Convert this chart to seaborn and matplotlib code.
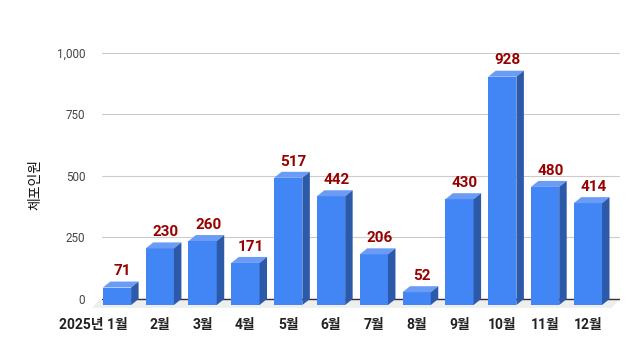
import matplotlib
matplotlib.use("Agg")
import numpy as np
import pandas as pd
import matplotlib.pyplot as plt
from matplotlib.patches import Polygon
from matplotlib.ticker import FuncFormatter
import seaborn as sns

# 데이터
months = ["1월", "2월", "3월", "4월", "5월", "6월",
          "7월", "8월", "9월", "10월", "11월", "12월"]
arrests = [71, 230, 260, 171, 517, 442, 206, 52, 430, 928, 480, 414]
first_label = "2025년 1월"
y_ticks = [0, 250, 500, 750, 1000]

sns.set_style("white")
plt.rcParams["font.family"] = ["Roboto", "Noto Sans CJK KR", "DejaVu Sans"]

FRONT = "#4285F4"
TOP = "#6A9CF6"
SIDE = "#2C5AA8"
LABEL_RED = "#990000"
DX, DY = 0.175, 24.4   # 3D 깊이 (x: 카테고리 단위, y: 데이터 단위)

fig = plt.figure(figsize=(6.38, 3.52), dpi=100)
ax = fig.add_axes([102 / 638, 1 - 310 / 352, 518 / 638, 270 / 352])

df = pd.DataFrame({"월": months, "체포인원": arrests})
sns.barplot(data=df, x="월", y="체포인원", order=months, color=FRONT,
            saturation=1, width=0.66, errorbar=None, linewidth=0,
            ax=ax, zorder=4)

ax.set_xlim(-0.35, 11.75)
ax.set_ylim(-44.7, 1052.8)

# 바닥
floor = Polygon([(-0.58, -36), (11.55, -36), (11.75, 0), (-0.40, 0)],
                closed=True, facecolor="#EEEEEE", edgecolor="none",
                zorder=1, clip_on=False)
ax.add_patch(floor)
ax.axhline(0, color="#333333", lw=1, zorder=2)

# 3D 막대 면
for p in list(ax.patches):
    if p is floor:
        continue
    x0, w, h = p.get_x(), p.get_width(), p.get_height()
    p.set_y(-DY)
    ax.add_patch(Polygon([(x0, h - DY), (x0 + w, h - DY), (x0 + w + DX, h), (x0 + DX, h)],
                         closed=True, facecolor=TOP, edgecolor="none", zorder=4))
    ax.add_patch(Polygon([(x0 + w, -DY), (x0 + w + DX, 0), (x0 + w + DX, h), (x0 + w, h - DY)],
                         closed=True, facecolor=SIDE, edgecolor="none", zorder=4))
    ax.annotate(f"{int(round(h))}", xy=(x0 + w / 2, h), xytext=(4, 4.5),
                textcoords="offset points", ha="center", va="baseline",
                color=LABEL_RED, fontsize=11, fontweight="bold", zorder=5)

# 축 스타일
ax.set_yticks(y_ticks)
ax.yaxis.set_major_formatter(FuncFormatter(lambda v, _: f"{int(v):,}"))
ax.yaxis.grid(True, color="#CCCCCC", lw=0.8, zorder=0)
ax.set_axisbelow(True)
ax.tick_params(axis="y", length=0, pad=12, labelsize=8.4, labelcolor="#444444")
ax.set_xticks(range(len(months)))
ax.set_xticklabels([""] + months[1:], fontsize=10, fontweight="bold", color="#222222")
ax.tick_params(axis="x", length=0, pad=5.5)
ax.annotate(first_label, xy=(0, 0), xycoords=("data", "axes fraction"),
            xytext=(7.5, -5.5), textcoords="offset points", ha="right", va="top",
            fontsize=10, fontweight="bold", color="#222222")
for s in ax.spines.values():
    s.set_visible(False)

ax.set_xlabel("")
ax.set_ylabel("체포인원", fontsize=10, color="#111111")
ax.yaxis.set_label_coords((42 - 102) / 518, (310 - 184) / 270)

fig.savefig("out.png", dpi=100, facecolor="white")
